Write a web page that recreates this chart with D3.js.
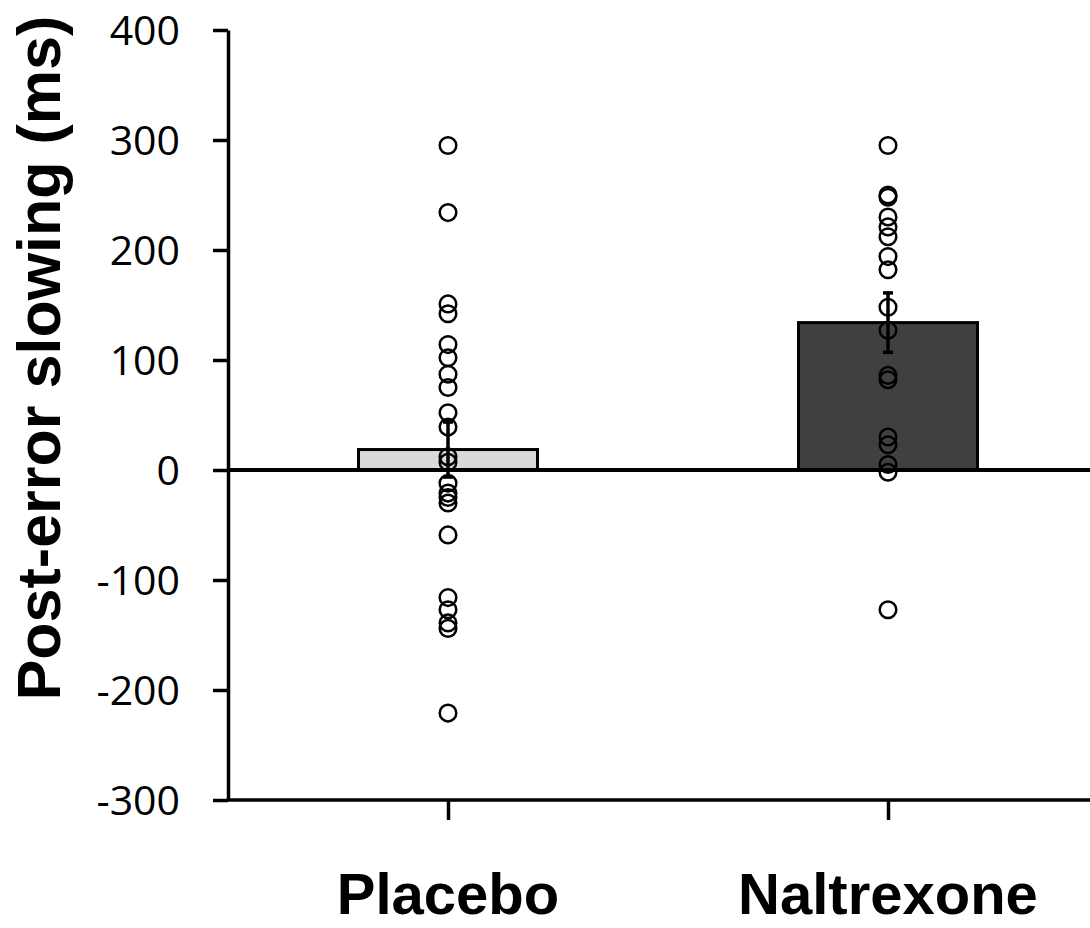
<!DOCTYPE html>
<html>
<head>
<meta charset="utf-8">
<script src="https://cdn.jsdelivr.net/npm/d3@7"></script>
<style>
    body { margin: 0; background: #fff; }
    svg { display: block; }
    .y-axis text { font-family: "Open Sans", sans-serif; font-size: 41px; fill: #000; }
    .label { font-family: "Liberation Sans", Arial, sans-serif; font-weight: bold; fill: #000; }
</style>
</head>
<body>
<div id="chart"></div>
<script>

var groups = ['Placebo', 'Naltrexone'];
var groupMeans = [18.6, 134];
var groupErrors = [25, 27];
var yTicks = [-300, -200, -100, 0, 100, 200, 300, 400];

var placeboPoints = [295, 234, 151, 142, 114, 102, 87, 75, 52, 39, 12, 7, -12, -21, -25, -30, -59, -116, -127, -139, -144, -221];
var naltrexonePoints = [295, 250, 248, 230, 221, 212, 194, 182, 148, 127, 86, 82, 30, 23, 5, -2, -127];

var barFills = ['#d9d9d9', '#404040'];

var width = 1090;
var height = 928;
var margin = { left: 228, top: 30, right: 0, bottom: 128 };
var barWidth = 179;

var svg = d3.select('#chart')
    .append('svg')
    .attr('width', width)
    .attr('height', height);

var xScale = d3.scalePoint()
    .domain(groups)
    .range([margin.left, margin.left + 880])
    .padding(0.5);

var yScale = d3.scaleLinear()
    .domain([-300, 400])
    .range([height - margin.bottom, margin.top]);

var bars = groups.map(function(g, i) {
    return { name: g, mean: groupMeans[i], err: groupErrors[i], fill: barFills[i] };
});

var points = [];
placeboPoints.forEach(function(v) { points.push({ name: 'Placebo', value: v }); });
naltrexonePoints.forEach(function(v) { points.push({ name: 'Naltrexone', value: v }); });

// bars
svg.selectAll('rect.bar')
    .data(bars)
    .enter()
    .append('rect')
    .attr('class', 'bar')
    .attr('x', d => xScale(d.name) - barWidth / 2)
    .attr('y', d => yScale(Math.max(0, d.mean)))
    .attr('width', barWidth)
    .attr('height', d => Math.abs(yScale(d.mean) - yScale(0)))
    .attr('fill', d => d.fill)
    .attr('stroke', '#000')
    .attr('stroke-width', 3);

// individual participants
svg.selectAll('circle.point')
    .data(points)
    .enter()
    .append('circle')
    .attr('class', 'point')
    .attr('cx', d => xScale(d.name))
    .attr('cy', d => yScale(d.value))
    .attr('r', 8.3)
    .attr('fill', 'none')
    .attr('stroke', '#000')
    .attr('stroke-width', 2.5);

// error bars
var errGroup = svg.selectAll('g.err')
    .data(bars)
    .enter()
    .append('g')
    .attr('class', 'err')
    .attr('stroke', '#000')
    .attr('stroke-width', 3.5);

errGroup.append('line')
    .attr('x1', d => xScale(d.name))
    .attr('x2', d => xScale(d.name))
    .attr('y1', d => yScale(d.mean - d.err))
    .attr('y2', d => yScale(d.mean + d.err));

errGroup.selectAll('line.cap')
    .data(d => [[d.name, d.mean - d.err], [d.name, d.mean + d.err]])
    .enter()
    .append('line')
    .attr('class', 'cap')
    .attr('x1', d => xScale(d[0]) - 5)
    .attr('x2', d => xScale(d[0]) + 5)
    .attr('y1', d => yScale(d[1]))
    .attr('y2', d => yScale(d[1]));

// zero line
svg.append('line')
    .attr('x1', margin.left)
    .attr('x2', width)
    .attr('y1', yScale(0))
    .attr('y2', yScale(0))
    .attr('stroke', '#000')
    .attr('stroke-width', 4);

// axes
var yAxis = svg.append('g')
    .attr('class', 'axis y-axis')
    .attr('transform', 'translate(' + margin.left + ',0)')
    .call(d3.axisLeft(yScale)
        .tickValues(yTicks)
        .tickSize(15)
        .tickSizeOuter(0)
        .tickPadding(33)
        .tickFormat(d => String(d)));

yAxis.selectAll('text').attr('dy', '0.36em');

var xAxis = svg.append('g')
    .attr('class', 'axis x-axis')
    .attr('transform', 'translate(0,' + yScale(-300) + ')')
    .call(d3.axisBottom(xScale)
        .tickSize(20)
        .tickSizeOuter(0)
        .tickFormat(''));

xAxis.select('.domain').attr('d', 'M' + (margin.left - 1.5) + ',0H' + width);

svg.selectAll('.axis path, .axis line')
    .attr('stroke', '#000')
    .attr('stroke-width', 3.5);

// labels
svg.selectAll('text.x-label')
    .data(groups)
    .enter()
    .append('text')
    .attr('class', 'label x-label')
    .attr('x', d => xScale(d))
    .attr('y', 914)
    .attr('text-anchor', 'middle')
    .style('font-size', '58px')
    .text(d => d);

svg.append('text')
    .attr('class', 'label')
    .attr('transform', 'translate(60,' + 358 + ') rotate(-90)')
    .attr('text-anchor', 'middle')
    .style('font-size', '61px')
    .text('Post-error slowing (ms)');

</script>
</body>
</html>
